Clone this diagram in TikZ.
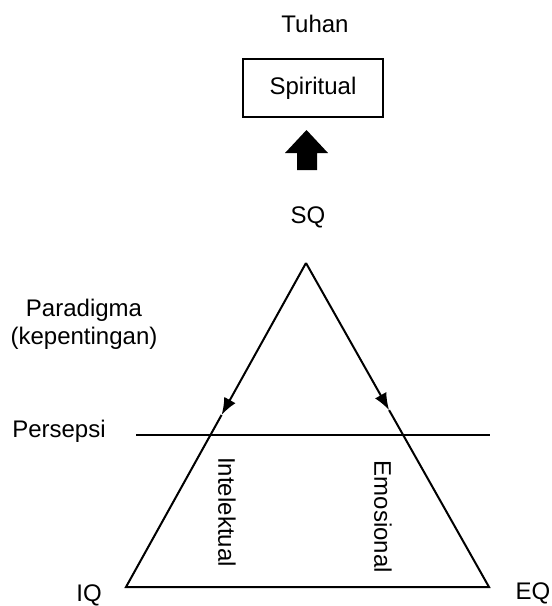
\documentclass[tikz,border=0pt]{standalone}
\usepackage{fontspec}
\setmainfont{Liberation Sans}
\usetikzlibrary{arrows.meta}
\usetikzlibrary{calc}
\tikzset{>=latex}
\tikzstyle{triline}=[draw=black,line width=1pt]
\tikzstyle{boxline}=[draw=black,line width=0.6pt]
\tikzstyle{word}=[inner sep=0pt,font=\fontsize{12}{14}\selectfont]

\begin{document}
\begin{tikzpicture}[x=0.5pt,y=-0.5pt]
    \useasboundingbox (0,0) rectangle (552,606);

    \node[word,anchor=base] (tuhan) at (315,32) {Tuhan};
    \node[word,boxline,minimum width=70pt,minimum height=29pt] (spirit) at (313,88) {Spiritual};
    \node[word,anchor=base] (sq) at (308,223) {SQ};
    \fill (285,153) -- (306.5,130) -- (328,153) -- (317,153) -- (317,170) -- (297,170) -- (297,153) -- cycle;

    % triangle
    \coordinate (apex) at (306,263);
    \coordinate (iqc) at (126,587);
    \coordinate (eqc) at (489,587);
    \coordinate (ltip) at ($(apex)!0.469!(iqc)$);
    \coordinate (rtip) at ($(apex)!0.454!(eqc)$);
    \draw[triline,line join=miter] (ltip) -- (iqc) -- (eqc) -- (rtip);
    \draw[triline,-{Latex[length=8.5pt,width=6.5pt]}] (apex) -- (ltip);
    \draw[triline,-{Latex[length=8.5pt,width=6.5pt]}] (apex) -- (rtip);

    \node[word,anchor=base,align=center] (para) at (84,344) {Paradigma\\(kepentingan)};
    \node[word,anchor=base] (persepsi) at (59,437) {Persepsi};
    \coordinate (pl) at (136,435);
    \coordinate (pr) at (490,435);
    \draw[triline] (pl) -- (pr);

    \node[word,rotate=-90] (intel) at (227,512) {Intelektual};
    \node[word,rotate=-90] (emo) at (383,517) {Emosional};
    \node[word,anchor=base] (iq) at (89,601) {IQ};
    \node[word,anchor=base] (eq) at (533,599) {EQ};
  \end{tikzpicture}
\end{document}
